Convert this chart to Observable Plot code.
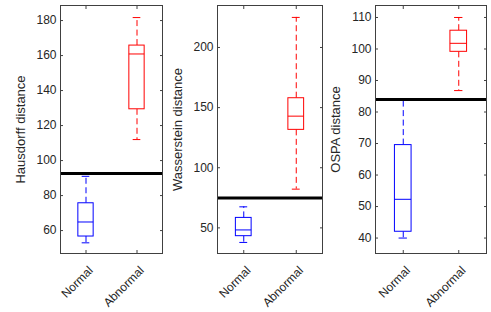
<!DOCTYPE html>
<html><head><meta charset="utf-8">
<script src="https://cdn.jsdelivr.net/npm/d3@7"></script>
<script src="https://cdn.jsdelivr.net/npm/@observablehq/plot@0.6"></script>
<style>
body{margin:0;background:#fff}
#chart{position:relative;width:491px;height:312px;overflow:hidden}
#chart svg{position:absolute;top:0}
</style></head><body><div id="chart"></div>
<script>
const categories = ["Normal", "Abnormal"];
const colors = ["#0000ff", "#ff0000"];
// [lower whisker, q1, median, q3, upper whisker]
const hausdorffNormal = [53, 56.6, 64.9, 75.6, 91];
const hausdorffAbnormal = [112, 129.3, 160.9, 165.7, 181.7];
const hausdorffThreshold = 92.6;
const hausdorffTicks = [60, 80, 100, 120, 140, 160, 180];

const wassersteinNormal = [37.9, 43.1, 48.3, 58.3, 67.5];
const wassersteinAbnormal = [82.2, 131.5, 142.9, 157.8, 225];
const wassersteinThreshold = 74.9;
const wassersteinTicks = [50, 100, 150, 200];

const ospaNormal = [40, 42, 52.3, 69.5, 84];
const ospaAbnormal = [86.8, 99.1, 101.8, 105.8, 110];
const ospaThreshold = 84;
const ospaTicks = [40, 50, 60, 70, 80, 90, 100, 110];

const panels = [
  {label: "Hausdorff distance", series: [hausdorffNormal, hausdorffAbnormal], thr: hausdorffThreshold, ticks: hausdorffTicks, domain: [46.9, 188.6], left: 0, width: 163, ml: 60, mr: 1},
  {label: "Wasserstein distance", series: [wassersteinNormal, wassersteinAbnormal], thr: wassersteinThreshold, ticks: wassersteinTicks, domain: [28.7, 234.9], left: 160, width: 163, ml: 57, mr: 1},
  {label: "OSPA distance", series: [ospaNormal, ospaAbnormal], thr: ospaThreshold, ticks: ospaTicks, domain: [35.1, 113.8], left: 320, width: 171, ml: 55, mr: 5}
];

const frameColor = "#404040";
const textColor = "#262626";
const container = document.getElementById("chart");

for (const p of panels) {
  const data = p.series.map((s, i) => ({
    pos: i + 1, cat: categories[i], color: colors[i],
    lo: s[0], q1: s[1], med: s[2], q3: s[3], hi: s[4]
  }));
  const bw = 0.15, cw = 0.075;
  const svg = Plot.plot({
    width: p.width, height: 312,
    marginLeft: p.ml, marginRight: p.mr, marginTop: 5, marginBottom: 59,
    style: {fontFamily: "'Liberation Sans', Arial, sans-serif", fontSize: "12px", color: textColor, background: "transparent", overflow: "visible"},
    x: {domain: [0.5, 2.5], axis: null},
    y: {domain: p.domain, axis: null},
    marks: [
      // whiskers
      Plot.ruleX(data, {x: "pos", y1: "q3", y2: "hi", stroke: "color", strokeDasharray: "6,3.5"}),
      Plot.ruleX(data, {x: "pos", y1: "q1", y2: "lo", stroke: "color", strokeDasharray: "6,3.5"}),
      Plot.ruleY(data, {y: "hi", x1: d => d.pos - cw, x2: d => d.pos + cw, stroke: "color"}),
      Plot.ruleY(data, {y: "lo", x1: d => d.pos - cw, x2: d => d.pos + cw, stroke: "color"}),
      // box
      Plot.rect(data, {x1: d => d.pos - bw, x2: d => d.pos + bw, y1: "q1", y2: "q3", fill: "white", stroke: "color"}),
      Plot.ruleY(data, {y: "med", x1: d => d.pos - bw, x2: d => d.pos + bw, stroke: "color"}),
      // threshold
      Plot.ruleY([p.thr], {stroke: "black", strokeWidth: 3}),
      // inward ticks
      Plot.axisY(p.ticks, {anchor: "left", tickSize: -3, fill: "none", stroke: frameColor, label: null}),
      Plot.axisY(p.ticks, {anchor: "right", tickSize: -3, fill: "none", stroke: frameColor, label: null}),
      Plot.axisX([1, 2], {anchor: "bottom", tickSize: -3, fill: "none", stroke: frameColor, label: null}),
      Plot.axisX([1, 2], {anchor: "top", tickSize: -3, fill: "none", stroke: frameColor, label: null}),
      // labels
      Plot.axisY(p.ticks, {anchor: "left", tickSize: 0, tickPadding: 4, fontSize: 12, fill: textColor, label: null}),
      Plot.text([p.label], {frameAnchor: "left", dx: -45, rotate: -90, textAnchor: "middle", lineAnchor: "top", fontSize: 13, fill: textColor}),
      Plot.axisX([1, 2], {anchor: "bottom", tickSize: 0, tickPadding: 15, dx: 5, tickRotate: -45, textAnchor: "end", lineAnchor: "middle", fontSize: 12, tickFormat: d => categories[d - 1], fill: textColor, label: null}),
      Plot.frame({stroke: frameColor})
    ]
  });
  svg.style.left = p.left + "px";
  container.appendChild(svg);
}
</script></body></html>
